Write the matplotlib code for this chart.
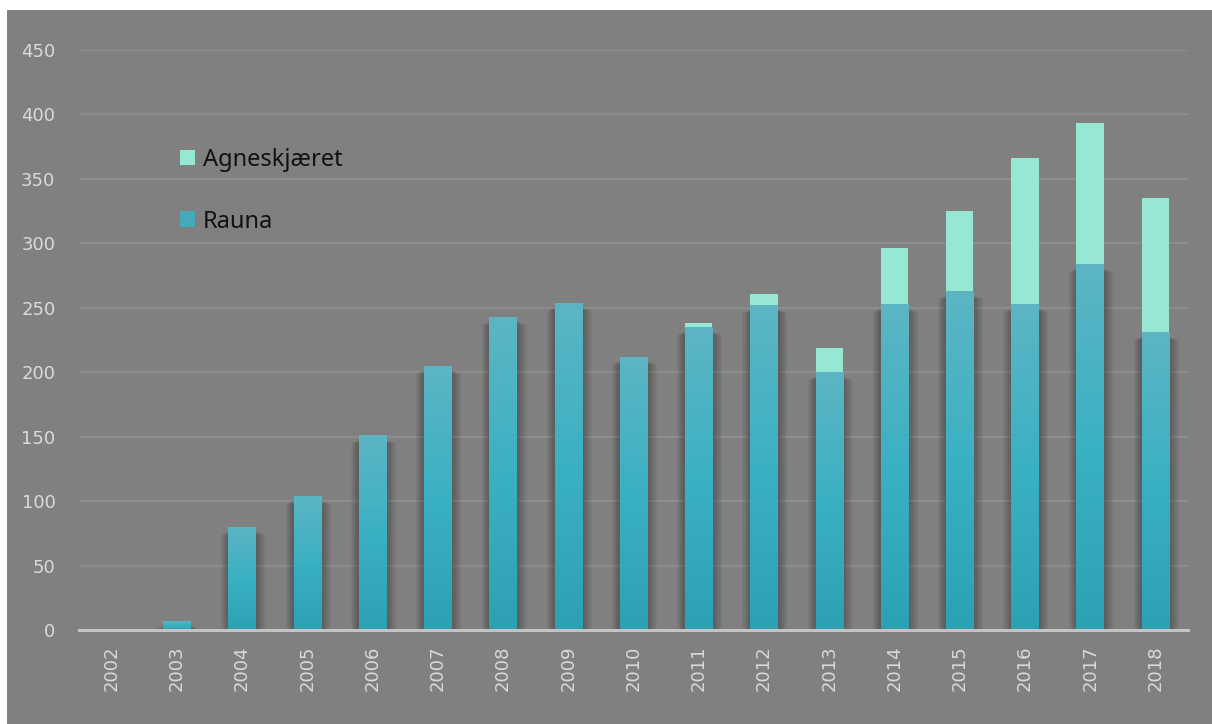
import matplotlib
matplotlib.use("Agg")
import matplotlib.pyplot as plt
from matplotlib.patches import Rectangle, Patch
from matplotlib.colors import LinearSegmentedColormap
import numpy as np

# turer per år, to ruter
years = [str(y) for y in range(2002, 2019)]
rauna = [0, 7, 80, 104, 151, 205, 243, 254, 212, 235, 252, 200, 253, 263, 253, 284, 231]
agneskjaeret = [0, 0, 0, 0, 0, 0, 0, 0, 0, 3, 9, 19, 43, 62, 113, 109, 104]

bg = "#808080"
tick_col = "#dadada"
agnes_col = "#96e8d5"
rauna_grad = LinearSegmentedColormap.from_list("rauna", ["#2ca1b4", "#3ab1c2", "#5db5c4"])

fig = plt.figure(figsize=(12.12, 7.24), dpi=100)
fig.patch.set_facecolor("white")
# grått panel bak diagrammet
panel = Rectangle((7 / 1212, 0), 1, 714 / 724, transform=fig.transFigure,
                  facecolor=bg, edgecolor="none", zorder=-10)
fig.add_artist(panel)

ax = fig.add_axes([79 / 1212, 94 / 724, 1109 / 1212, 580 / 724])
ax.set_facecolor("none")

x = np.arange(len(years))
w = 0.42

ax.set_yticks(range(0, 451, 50))
ax.yaxis.grid(True, color="#8c8c8c", linewidth=1.6)
ax.set_axisbelow(True)

# myk skygge rundt søylene
for i in range(len(years)):
    if rauna[i] <= 0:
        continue
    for k in range(7):
        pad = 0.15 - k * 0.02
        ax.add_patch(Rectangle((x[i] - w / 2 - pad * 0.8, 0), w + pad * 1.8,
                               max(rauna[i] - 3 - pad * 20, 0),
                               facecolor="black", alpha=0.04, edgecolor="none", zorder=1))

# Rauna med fargeovergang, Agneskjæret oppå
grad = np.linspace(0, 1, 256).reshape(-1, 1)
bars = ax.bar(x, rauna, w, color="none", zorder=2)
for b, h in zip(bars, rauna):
    if h <= 0:
        continue
    im = ax.imshow(grad, cmap=rauna_grad, aspect="auto", origin="lower",
                   extent=(b.get_x(), b.get_x() + w, 0, h), zorder=2)
    im.set_clip_path(b)
ax.bar(x, agneskjaeret, w, bottom=rauna, color=agnes_col, zorder=2)
ax.set_xlim(-0.5, len(years) - 0.5)
ax.set_ylim(0, 450)

for s in ["top", "right", "left"]:
    ax.spines[s].set_visible(False)
ax.spines["bottom"].set_color("#c4c4c4")
ax.spines["bottom"].set_linewidth(2.2)
ax.spines["bottom"].set_zorder(3)

ax.set_xticks(x)
ax.set_xticklabels(years, rotation=90)
ax.tick_params(axis="x", length=0, pad=11, colors=tick_col, labelsize=13)
ax.tick_params(axis="y", length=0, pad=17, colors=tick_col, labelsize=13)
for lab in ax.get_xticklabels() + ax.get_yticklabels():
    lab.set_fontfamily("DejaVu Sans")

handles = [Patch(facecolor=agnes_col, edgecolor="none"),
           Patch(facecolor="#44aabb", edgecolor="none")]
leg = ax.legend(handles, ["Agneskjæret", "Rauna"], loc="upper left",
                bbox_to_anchor=(0.072, 0.868), frameon=False,
                handlelength=0.65, handleheight=0.65, handletextpad=0.3,
                labelspacing=1.6, prop={"family": "Noto Sans", "size": 17})
for t in leg.get_texts():
    t.set_color("#111111")

fig.savefig("out.png", dpi=100, facecolor=fig.get_facecolor())
